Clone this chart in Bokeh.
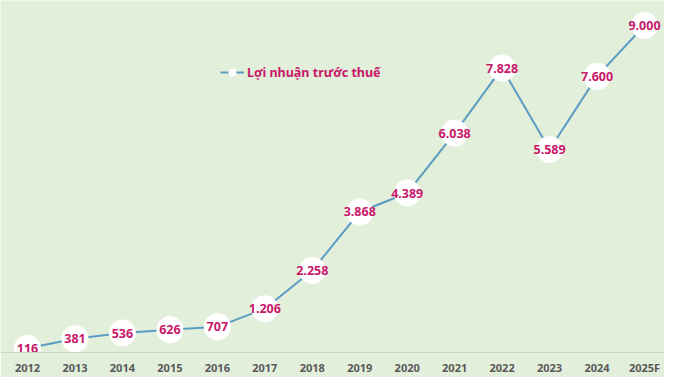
from bokeh.plotting import figure
from bokeh.models import ColumnDataSource, Range1d, FixedTicker, Legend, LegendItem
from bokeh.embed import file_html
from bokeh.resources import INLINE
from bokeh.core.properties import value

years = ["2012", "2013", "2014", "2015", "2016", "2017", "2018",
         "2019", "2020", "2021", "2022", "2023", "2024", "2025F"]
profit = [116, 381, 536, 626, 707, 1206, 2258, 3868, 4389, 6038, 7828, 5589, 7600, 9000]
series_name = "Lợi nhuận trước thuế"

BG = "#e2efda"
LINE = "#5a9cc2"
MAG = "#c8186a"

FH = 352
FW = 664
X0, X1 = 27, 644
STEP = (X1 - X0) / 13
idx = list(range(len(years)))
labels = [f"{v:,}".replace(",", ".") for v in profit]
src = ColumnDataSource(dict(x=idx, y=profit, lab=labels))

p = figure(frame_width=FW, frame_height=FH, output_backend="svg", toolbar_location=None,
           x_range=Range1d(-X0 / STEP, 13 + (FW - X1) / STEP),
           y_range=Range1d(0, FH / ((FH - 25) / 9000)),
           min_border_left=0, min_border_right=0, min_border_top=0,
           min_border_bottom=0)
p.background_fill_color = BG
p.border_fill_color = BG
p.outline_line_color = None
p.grid.visible = False
p.yaxis.visible = False

ax = p.xaxis[0]
ax.ticker = FixedTicker(ticks=idx)
ax.major_label_overrides = {i: y for i, y in enumerate(years)}
ax.axis_line_color = "#cbd8c3"
ax.axis_line_width = 1
ax.major_tick_line_color = None
ax.minor_tick_line_color = None
ax.major_tick_out = 0
ax.major_label_standoff = 7
ax.major_label_text_font = "Noto Sans"
ax.major_label_text_font_style = "bold"
ax.major_label_text_font_size = "11px"
ax.major_label_text_color = "#595959"

ln = p.line("x", "y", source=src, line_color=LINE, line_width=2)
sc = p.scatter("x", "y", source=src, size=27, fill_color="white", line_color=None)
p.text("x", "y", text="lab", source=src, text_align="center", text_baseline="middle",
       text_font=value("Noto Sans"), text_font_style="bold", text_font_size="12.5px",
       text_color=MAG)

# legend glyph renderers (line with white dot)
lg_line = p.line([0], [0], line_color=LINE, line_width=2, visible=False)
lg_dot = p.scatter([0], [0], size=8, fill_color="white", line_color=None, visible=False)
leg = Legend(items=[LegendItem(label=series_name, renderers=[lg_line, lg_dot])],
             location=(220, 270), orientation="horizontal",
             label_text_font="Noto Sans", label_text_font_style="bold",
             label_text_font_size="12.5px", label_text_color=MAG,
             background_fill_alpha=0, border_line_color=None,
             glyph_width=24, label_standoff=3, padding=0, margin=0)
p.add_layout(leg)

open("out.html", "w").write(file_html(p, INLINE))
